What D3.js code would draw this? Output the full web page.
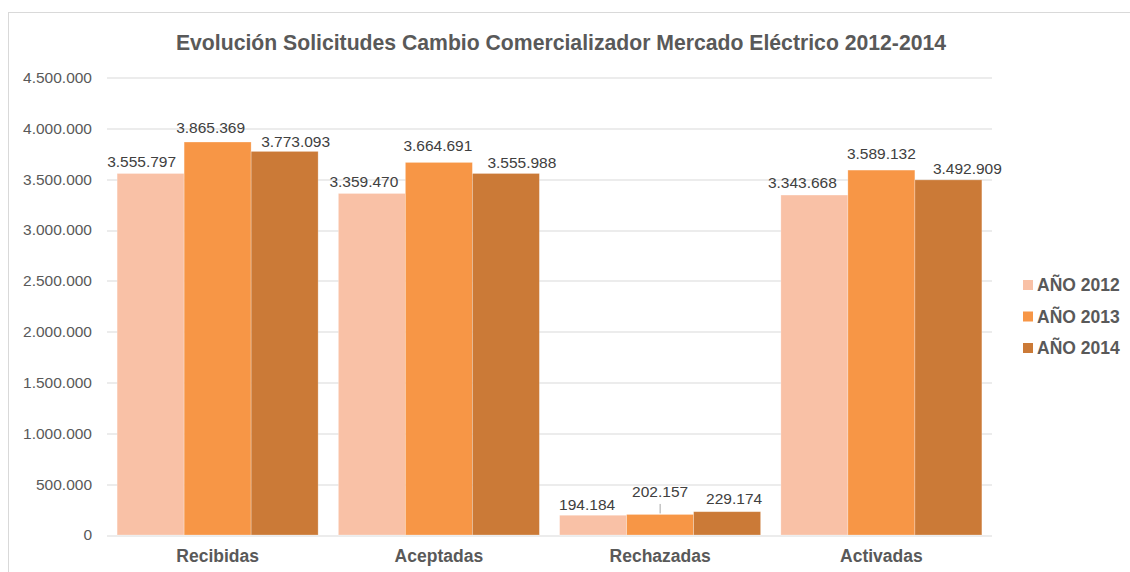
<!DOCTYPE html>
<html>
<head>
<meta charset="utf-8">
<script src="https://cdn.jsdelivr.net/npm/d3@7"></script>
<style>
  body { margin: 0; background: #fff; }
  svg { display: block; font-family: 'Liberation Sans', Arial, sans-serif; }
</style>
</head>
<body>
<div class="chart"></div>
<script>
const svgWidth = 1130;
const svgHeight = 572;

const title = 'Evolución Solicitudes Cambio Comercializador Mercado Eléctrico 2012-2014';
const categories = ['Recibidas', 'Aceptadas', 'Rechazadas', 'Activadas'];
const seriesNames = ['AÑO 2012', 'AÑO 2013', 'AÑO 2014'];
const values2012 = [3555797, 3359470, 194184, 3343668];
const values2013 = [3865369, 3664691, 202157, 3589132];
const values2014 = [3773093, 3555988, 229174, 3492909];
const yTicks = [0, 500000, 1000000, 1500000, 2000000, 2500000, 3000000, 3500000, 4000000, 4500000];

const colors = ['#F9C1A6', '#F79646', '#CB7A37'];

// label nudges (dx, dy) per category / series, as Excel placed them
const labelShift = [
  [[-9, 0], [-7, -3], [11, 2]],
  [[-8, 0], [-1, -5], [16, 1]],
  [[-6, 1], [0, -11], [7, -1]],
  [[-12, -1], [0, -5], [19, 1]]
];

const margin = { top: 77.5, right: 138, bottom: 37, left: 107 };
const width = svgWidth - margin.left - margin.right;
const height = svgHeight - margin.top - margin.bottom;

const es = d3.formatLocale({ decimal: ',', thousands: '.', grouping: [3], currency: ['', ' €'] });
const fmt = es.format(',');

const svg = d3.select('.chart')
  .append('svg')
  .attr('width', svgWidth)
  .attr('height', svgHeight);

// chart frame
svg.append('rect')
  .attr('x', 8.5).attr('y', 12.5)
  .attr('width', svgWidth + 20).attr('height', svgHeight + 20)
  .attr('fill', '#fff')
  .attr('stroke', '#D9D9D9');

svg.append('text')
  .attr('x', 561).attr('y', 50)
  .attr('text-anchor', 'middle')
  .attr('font-size', '21.2px')
  .attr('font-weight', 'bold')
  .attr('fill', '#595959')
  .text(title);

const chartGroup = svg.append('g')
  .attr('transform', `translate(${margin.left}, ${margin.top})`);

const x0 = d3.scaleBand()
  .domain(categories)
  .range([0, width])
  .paddingInner(0.0915)
  .paddingOuter(0.0915 / 2);

const x1 = d3.scaleBand()
  .domain(seriesNames)
  .range([0, x0.bandwidth()]);

const y = d3.scaleLinear()
  .domain([0, 4500000])
  .range([height, 0]);

// gridlines
chartGroup.append('g')
  .selectAll('line')
  .data(yTicks)
  .enter()
  .append('line')
  .attr('x1', 0).attr('x2', width)
  .attr('y1', d => Math.round(y(d)) + 0.5)
  .attr('y2', d => Math.round(y(d)) + 0.5)
  .attr('stroke', '#D9D9D9')
  .attr('stroke-width', 1);

// y axis labels
const yAxis = chartGroup.append('g')
  .call(d3.axisLeft(y).tickValues(yTicks).tickFormat(d => d === 0 ? '0' : fmt(d)).tickSize(0).tickPadding(15));
yAxis.select('.domain').remove();
yAxis.selectAll('text')
  .attr('font-family', "'Liberation Sans', Arial, sans-serif")
  .attr('font-size', '15.5px')
  .attr('fill', '#595959');

const series = [values2012, values2013, values2014];
const rows = [];
categories.forEach((c, i) => {
  seriesNames.forEach((s, j) => {
    rows.push({ cat: c, ci: i, name: s, si: j, value: series[j][i] });
  });
});

const groups = chartGroup.selectAll('.cat')
  .data(categories)
  .enter()
  .append('g')
  .attr('class', 'cat')
  .attr('transform', d => `translate(${x0(d)}, 0)`);

groups.selectAll('rect')
  .data(c => rows.filter(r => r.cat === c))
  .enter()
  .append('rect')
  .attr('x', d => x1(d.name))
  .attr('y', d => y(d.value))
  .attr('width', x1.bandwidth())
  .attr('height', d => height - y(d.value))
  .attr('fill', d => colors[d.si])
  .attr('stroke', 'rgba(255,255,255,0.35)')
  .attr('stroke-width', 0.75);

// leader line for displaced label
groups.selectAll('.leader')
  .data(c => rows.filter(r => r.cat === c && labelShift[r.ci][r.si][1] < -8))
  .enter()
  .append('line')
  .attr('x1', d => x1(d.name) + x1.bandwidth() / 2)
  .attr('x2', d => x1(d.name) + x1.bandwidth() / 2)
  .attr('y1', d => y(d.value) + labelShift[d.ci][d.si][1] + 0.5)
  .attr('y2', d => y(d.value) - 1)
  .attr('stroke', '#A6A6A6')
  .attr('stroke-width', 1);

groups.selectAll('.lbl')
  .data(c => rows.filter(r => r.cat === c))
  .enter()
  .append('text')
  .attr('class', 'lbl')
  .attr('x', d => x1(d.name) + x1.bandwidth() / 2 + labelShift[d.ci][d.si][0])
  .attr('y', d => y(d.value) - 6.5 + labelShift[d.ci][d.si][1])
  .attr('text-anchor', 'middle')
  .attr('font-size', '15.5px')
  .attr('fill', '#404040')
  .text(d => fmt(d.value));

// category labels
chartGroup.append('g')
  .selectAll('text')
  .data(categories)
  .enter()
  .append('text')
  .attr('x', d => x0(d) + x0.bandwidth() / 2)
  .attr('y', height + 27)
  .attr('text-anchor', 'middle')
  .attr('font-size', '17.5px')
  .attr('font-weight', 'bold')
  .attr('fill', '#595959')
  .text(d => d);

// legend
const legend = svg.append('g')
  .attr('transform', 'translate(1023, 285)');

const items = legend.selectAll('g')
  .data(seriesNames)
  .enter()
  .append('g')
  .attr('transform', (d, i) => `translate(0, ${i * 31.5})`);

items.append('rect')
  .attr('x', 0).attr('y', -5)
  .attr('width', 10).attr('height', 10)
  .attr('fill', (d, i) => colors[i]);

items.append('text')
  .attr('x', 14).attr('y', 6)
  .attr('font-size', '17.5px')
  .attr('font-weight', 'bold')
  .attr('fill', '#595959')
  .text(d => d);
</script>
</body>
</html>
